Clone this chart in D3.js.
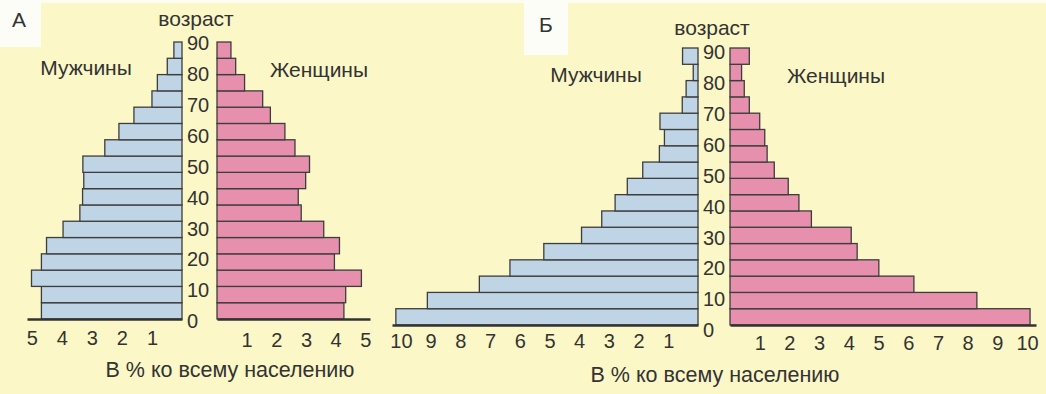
<!DOCTYPE html>
<html>
<head>
<meta charset="utf-8">
<script src="https://cdn.jsdelivr.net/npm/d3@7"></script>
<style>
  body { margin: 0; background: #fff; }
  svg { display: block; font-family: 'Liberation Sans', Arial, sans-serif; }
  .axis .domain { stroke: #333; stroke-width: 2.5; }
</style>
</head>
<body>
<svg id="chart" width="1046" height="394"></svg>
<script>
// age groups, bottom to top
const ageGroups = ['0-4', '5-9', '10-14', '15-19', '20-24', '25-29', '30-34', '35-39', '40-44',
  '45-49', '50-54', '55-59', '60-64', '65-69', '70-74', '75-79', '80+'];
const ageTicks = [0, 10, 20, 30, 40, 50, 60, 70, 80, 90];

// А
const maleA = [4.68, 4.68, 5.01, 4.68, 4.51, 3.96, 3.4, 3.31, 3.27, 3.3, 2.57, 2.1, 1.6, 1.0, 0.82, 0.49, 0.27];
const femaleA = [4.28, 4.34, 4.87, 3.96, 4.13, 3.6, 2.84, 2.74, 2.99, 3.12, 2.63, 2.29, 1.8, 1.54, 0.93, 0.63, 0.47];
const ticksA = [1, 2, 3, 4, 5];

// Б
const maleB = [10.17, 9.11, 7.36, 6.33, 5.19, 3.92, 3.24, 2.79, 2.38, 1.86, 1.3, 1.13, 1.28, 0.53, 0.4, 0.16, 0.52];
const femaleB = [10.1, 8.31, 6.19, 5.01, 4.28, 4.08, 2.74, 2.32, 1.96, 1.49, 1.25, 1.17, 1.0, 0.65, 0.48, 0.39, 0.65];
const ticksB = [1, 2, 3, 4, 5, 6, 7, 8, 9, 10];

const svg = d3.select('#chart');

// background + white label boxes
svg.append('rect').attr('width', 1046).attr('height', 394).attr('fill', '#fbf7c6');
svg.append('rect').attr('width', 1046).attr('height', 3).attr('fill', '#fdfcf0');
svg.append('rect').attr('x', 0).attr('y', 0).attr('width', 41).attr('height', 47).attr('fill', '#fdfdf8');
svg.append('rect').attr('x', 524).attr('y', 0).attr('width', 44).attr('height', 55).attr('fill', '#fdfdf8');

function drawPanel(p) {
  const g = svg.append('g');

  const y = d3.scaleBand().domain(ageGroups).range([p.base, p.top]).padding(0);
  const yAge = d3.scaleLinear().domain([0, 90]).range([p.age0, p.age90]);
  const xm = d3.scaleLinear().domain([0, p.max]).range([p.mZero, p.mEnd]);
  const xf = d3.scaleLinear().domain([0, p.max]).range([p.fZero, p.fEnd]);

  // male bars
  g.append('g')
    .selectAll('rect')
    .data(p.male)
    .join('rect')
    .attr('x', d => xm(d))
    .attr('y', (d, i) => y(ageGroups[i]))
    .attr('width', d => xm(0) - xm(d))
    .attr('height', y.bandwidth())
    .attr('fill', '#bfd5e6')
    .attr('stroke', '#3d3d3d')
    .attr('stroke-width', 1.3);

  // female bars
  g.append('g')
    .selectAll('rect')
    .data(p.female)
    .join('rect')
    .attr('x', xf(0))
    .attr('y', (d, i) => y(ageGroups[i]))
    .attr('width', d => xf(d) - xf(0))
    .attr('height', y.bandwidth())
    .attr('fill', '#e690ae')
    .attr('stroke', '#3d3d3d')
    .attr('stroke-width', 1.3);

  // bottom axes, no tick marks
  const fmt = d3.format('d');
  [[xm, p.pad], [xf, p.pad + 2]].forEach(([sc, pad]) => {
    g.append('g')
      .attr('class', 'axis')
      .attr('transform', 'translate(0,' + p.base + ')')
      .call(d3.axisBottom(sc).tickValues(p.ticks).tickFormat(fmt).tickSize(0).tickPadding(pad))
      .call(a => a.selectAll('text')
        .style('font-size', '20px')
        .style('font-family', "'Liberation Sans', Arial, sans-serif")
        .attr('fill', '#333'));
  });

  // age labels
  g.append('g')
    .selectAll('text')
    .data(ageTicks)
    .join('text')
    .attr('x', p.ageX)
    .attr('y', d => yAge(d))
    .attr('dy', '0.36em')
    .attr('font-size', 20)
    .attr('fill', '#333')
    .text(d => d);

  const label = (txt, x, yy, size, anchor) => g.append('text')
    .attr('x', x).attr('y', yy)
    .attr('font-size', size)
    .attr('text-anchor', anchor || 'middle')
    .attr('fill', '#333')
    .text(txt);

  label(p.name, p.nameX, p.nameY, 21, 'start');
  label('возраст', p.ageTitleX, p.ageTitleY, 21);
  label('Мужчины', p.mTitleX, p.mTitleY, 21);
  label('Женщины', p.fTitleX, p.fTitleY, 21);
  label('В % ко всему населению', p.xTitleX, p.xTitleY, 21.5);
}

drawPanel({
  name: 'А', nameX: 12, nameY: 27,
  male: maleA, female: femaleA, ticks: ticksA, max: 5.16,
  base: 319, top: 42, age0: 321, age90: 43, ageX: 187,
  mZero: 182, mEnd: 27, fZero: 217, fEnd: 370, pad: 12,
  ageTitleX: 196, ageTitleY: 26,
  mTitleX: 86, mTitleY: 75, fTitleX: 319, fTitleY: 77,
  xTitleX: 230, xTitleY: 377
});

drawPanel({
  name: 'Б', nameX: 539, nameY: 32,
  male: maleB, female: femaleB, ticks: ticksB, max: 10.3,
  base: 325, top: 48, age0: 330, age90: 52, ageX: 703,
  mZero: 698, mEnd: 392, fZero: 730, fEnd: 1036, pad: 9,
  ageTitleX: 712, ageTitleY: 35,
  mTitleX: 596, mTitleY: 82, fTitleX: 836, fTitleY: 83,
  xTitleX: 715, xTitleY: 382
});
</script>
</body>
</html>
